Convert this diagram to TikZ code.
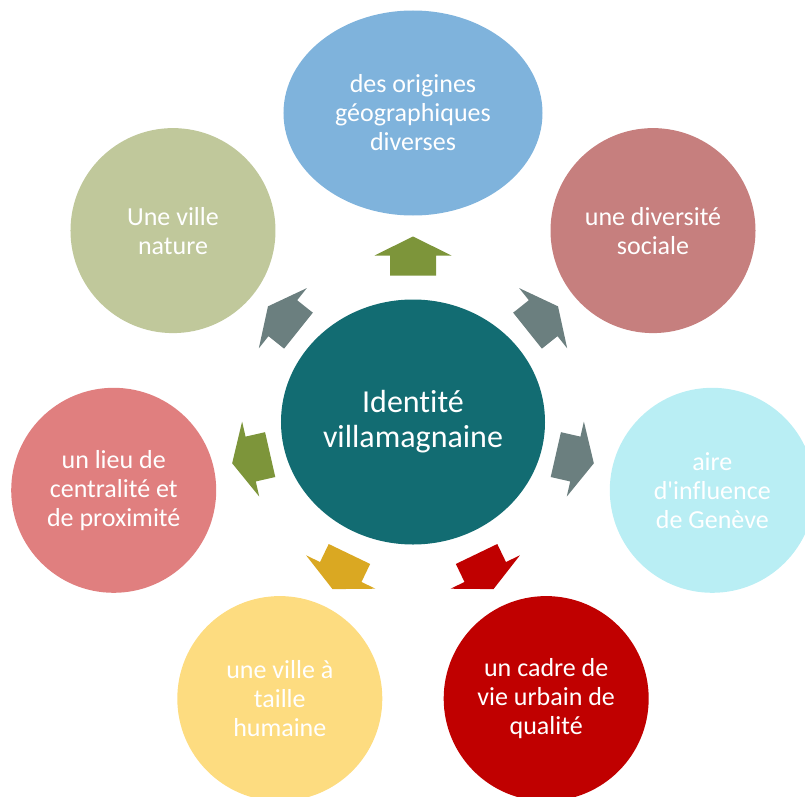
\documentclass[tikz,border=0pt]{standalone}
\usepackage{fontspec}
\setmainfont{Carlito}[Ligatures={TeX,NoCommon}]
\usetikzlibrary{shapes.geometric}
\definecolor{idteal}{HTML}{126C72}
\definecolor{origblue}{HTML}{7FB3DC}
\definecolor{natgreen}{HTML}{C0C89B}
\definecolor{divrose}{HTML}{C67F7E}
\definecolor{genblue}{HTML}{B9EEF4}
\definecolor{cadrered}{HTML}{C00000}
\definecolor{humyellow}{HTML}{FDDC80}
\definecolor{centpink}{HTML}{E07F7F}
\definecolor{arrgreen}{HTML}{7D953A}
\definecolor{arrgray}{HTML}{6B7F7F}
\definecolor{arrgold}{HTML}{DAA822}
\tikzset{bubble/.style = {shape=circle, minimum size=205pt, inner sep=0pt, text=white, align=center, font=\fontsize{26}{29}\selectfont}}
\tikzset{core/.style = {shape=ellipse, minimum width=264pt, minimum height=245pt, inner sep=0pt, text=white, align=center, font=\fontsize{32}{35}\selectfont}}

\begin{document}
\begin{tikzpicture}[x=1pt, y=1pt]
  \useasboundingbox (-413,-374) rectangle (392,422);

  \node[core, fill=idteal] (ident) at (0,0) {Identité\\villamagnaine};

  \node[bubble, shape=ellipse, minimum width=259pt, minimum height=205pt, fill=origblue] (origines) at (90:309) {des origines\\géographiques\\diverses};
  \node[bubble, fill=divrose] (diversite) at (38.571:307) {une diversité\\sociale};
  \node[bubble, fill=genblue] (geneve) at (-12.857:307) {aire\\d\textquotesingle influence\\de Genève};
  \node[bubble, fill=cadrered] (cadre) at (-64.286:307) {un cadre de\\vie urbain de\\qualité};
  \node[bubble, fill=humyellow] (humaine) at (-115.714:307) {une ville à\\taille\\humaine};
  \node[bubble, fill=centpink] (centralite) at (-167.143:307) {un lieu de\\centralité et\\de proximité};
  \node[bubble, fill=natgreen] (nature) at (141.429:307) {Une ville\\nature};

  % block arrows pointing outwards
  \foreach \ang/\col in {90/arrgreen, 38.571/arrgray, -12.857/arrgray, -64.286/cadrered,
                         -115.714/arrgold, -167.143/arrgreen, 141.429/arrgray}
    \fill[\col, rotate=\ang, shift={(166,0)}] (-19.5,-23) -- (0.5,-23) -- (0.5,-38.5) -- (19.5,0)
      -- (0.5,38.5) -- (0.5,23) -- (-19.5,23) -- cycle;
\end{tikzpicture}
\end{document}
